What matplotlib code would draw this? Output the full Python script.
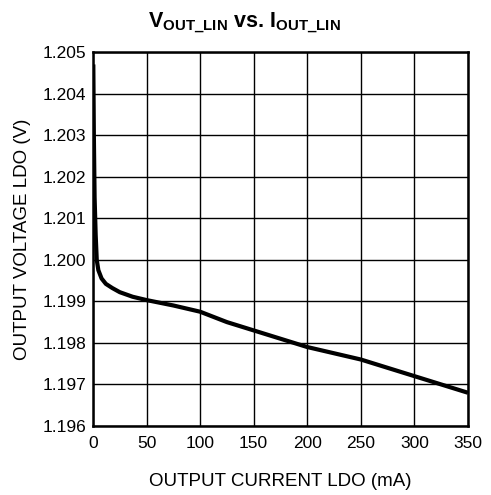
import matplotlib
matplotlib.use("Agg")
import matplotlib.pyplot as plt

plt.rcParams['font.family'] = ['Liberation Sans', 'DejaVu Sans']
plt.rcParams['mathtext.fontset'] = 'custom'
plt.rcParams['mathtext.rm'] = 'Liberation Sans'
plt.rcParams['mathtext.bf'] = 'Liberation Sans:bold'

# Output current (mA) vs. output voltage (V)
current_ma = [0.3, 0.8, 1.5, 2.5, 3.5, 5, 8, 12, 18, 25, 37, 50, 75, 100,
              125, 150, 175, 200, 250, 300, 350]
voltage_v = [1.2047, 1.2030, 1.2015, 1.2006, 1.2000, 1.19975, 1.19955, 1.19942,
             1.19932, 1.19922, 1.19911, 1.19903, 1.1989, 1.19875, 1.1985,
             1.1983, 1.1981, 1.1979, 1.1976, 1.1972, 1.1968]

x_ticks = [0, 50, 100, 150, 200, 250, 300, 350]
y_ticks = [1.196, 1.197, 1.198, 1.199, 1.200, 1.201, 1.202, 1.203, 1.204, 1.205]

fig = plt.figure(figsize=(4.91, 4.95), dpi=100)
ax = fig.add_axes([0.1894, 0.1394, 0.7636, 0.7556])

ax.plot(current_ma, voltage_v, color='black', linewidth=3, solid_capstyle='butt', zorder=3)

ax.set_xlim(0, 350)
ax.set_ylim(1.196, 1.205)
ax.set_xticks(x_ticks)
ax.set_yticks(y_ticks)
ax.set_xticklabels([str(v) for v in x_ticks])
ax.set_yticklabels(['%.3f' % v for v in y_ticks])
ax.tick_params(length=0, labelsize=12.5)
ax.tick_params(axis='x', pad=7)
ax.tick_params(axis='y', pad=5)
ax.grid(True, color='black', linewidth=1)
for s in ax.spines.values():
    s.set_linewidth(1.8)

ax.set_xlabel('OUTPUT CURRENT LDO (mA)', fontsize=13.5, labelpad=16)
ax.set_ylabel('OUTPUT VOLTAGE LDO (V)', fontsize=13.5, labelpad=8)
fig.text(0.497, 0.943, r'$\mathbf{V_{OUT\_LIN}}$ vs. $\mathbf{I_{OUT\_LIN}}$',
         fontsize=15.5, fontweight='bold', ha='center', va='baseline')

fig.savefig('out.png', dpi=100)
